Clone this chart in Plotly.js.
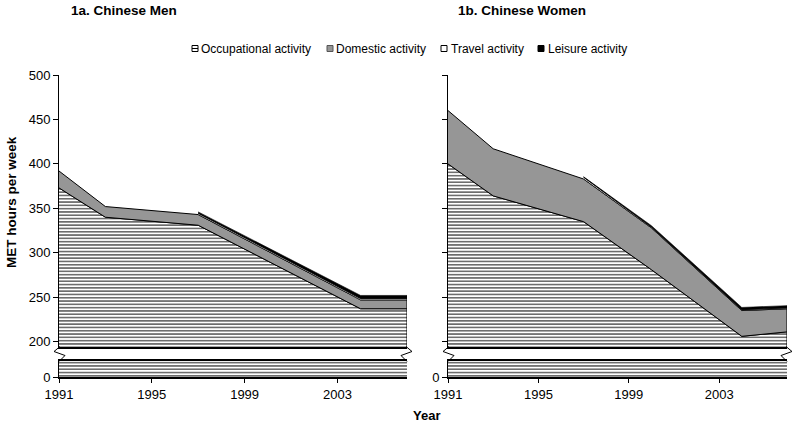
<!DOCTYPE html>
<html>
<head>
<meta charset="utf-8">
<script src="https://cdn.plot.ly/plotly-3.0.1.min.js"></script>
<style>html,body{margin:0;padding:0;background:#fff;}#chart{width:800px;height:425px;}</style>
</head>
<body>
<div id="chart"></div>
<script>
// ---------- data ----------
const years = [1991, 1993, 1997, 2000, 2004, 2006];
const travelYears = [1997, 2000, 2004, 2006];
const xTickVals = [1991, 1995, 1999, 2003];
const yTickValsUpper = [200, 250, 300, 350, 400, 450, 500];

const menOccupational = [373, 340, 331, 291, 237, 237];
const menDomestic     = [19, 12, 12, 11, 10, 10];
const menTravel       = [1.5, 1.5, 1.5, 1.5];
const menLeisure      = [1.5, 2, 3.5, 3.5];

const womenOccupational = [400, 364, 335, 281, 206, 211];
const womenDomestic     = [60, 53, 48, 47, 29, 26];
const womenTravel       = [2, 1, 1, 1];
const womenLeisure      = [0.5, 1.5, 2.5, 2.5];

const panelTitles = ['1a. Chinese Men', '1b. Chinese Women'];
const legendLabels = ['Occupational activity', 'Domestic activity', 'Travel activity', 'Leisure activity'];
const yAxisTitle = 'MET hours per week';
const xAxisTitle = 'Year';

// ---------- helpers ----------
const W = 800, H = 425;
const FONT = 'Liberation Sans, Arial, Helvetica, sans-serif';
const px = v => v / W;
const py = v => 1 - v / H;
const GRAY = '#969696';

function poly(xs, top, bottom) {
  return {
    x: xs.concat(xs.slice().reverse()),
    y: top.concat(bottom.slice().reverse())
  };
}
const add = (a, b) => a.map((v, i) => v + b[i]);

const hatch = {shape: '-', fgcolor: '#222', bgcolor: '#fff', size: 3.3, solidity: 0.33};

function panelTraces(occ, dom, trav, leis, xl, yl, xu, yu) {
  const zeros = years.map(() => 0);
  const domTop = add(occ, dom);
  const idx = travelYears.map(y => years.indexOf(y));
  const tBase = idx.map(i => domTop[i]);
  const tTop = add(tBase, trav);
  const lTop = add(tTop, leis);
  const out = [];
  // upper segment
  let p = poly(years, occ, zeros);
  out.push({type: 'scatter', mode: 'lines', x: p.x, y: p.y, xaxis: xu, yaxis: yu, fill: 'toself',
    fillcolor: '#fff', fillpattern: hatch, line: {color: '#000', width: 1}, hoverinfo: 'skip', showlegend: false});
  p = poly(years, domTop, occ);
  out.push({type: 'scatter', mode: 'lines', x: p.x, y: p.y, xaxis: xu, yaxis: yu, fill: 'toself',
    fillcolor: GRAY, line: {color: '#000', width: 1}, hoverinfo: 'skip', showlegend: false});
  p = poly(travelYears, tTop, tBase);
  out.push({type: 'scatter', mode: 'lines', x: p.x, y: p.y, xaxis: xu, yaxis: yu, fill: 'toself',
    fillcolor: '#fff', line: {color: '#000', width: 0.8}, hoverinfo: 'skip', showlegend: false});
  p = poly(travelYears, lTop, tTop);
  out.push({type: 'scatter', mode: 'lines', x: p.x, y: p.y, xaxis: xu, yaxis: yu, fill: 'toself',
    fillcolor: '#000', line: {color: '#000', width: 0.6}, hoverinfo: 'skip', showlegend: false});
  // lower segment (broken axis)
  p = poly(years, occ, zeros);
  out.push({type: 'scatter', mode: 'lines', x: p.x, y: p.y, xaxis: xl, yaxis: yl, fill: 'toself',
    fillcolor: '#fff', fillpattern: hatch, line: {color: '#000', width: 0}, hoverinfo: 'skip', showlegend: false});
  return out;
}

const data = []
  .concat(panelTraces(menOccupational, menDomestic, menTravel, menLeisure, 'x', 'y', 'x2', 'y2'))
  .concat(panelTraces(womenOccupational, womenDomestic, womenTravel, womenLeisure, 'x3', 'y3', 'x4', 'y4'));

// ---------- layout ----------
const leftDom = [px(59), px(407)];
const rightDom = [px(448), px(787)];
const upperDom = [py(347), py(75)];
const lowerDom = [py(377), py(361)];
const tickFont = {family: FONT, size: 13, color: '#000'};

function xLower(domain, anchor) {
  return {domain, anchor, range: [1991, 2006], tickvals: xTickVals, ticktext: xTickVals.map(String),
    ticks: 'outside', ticklen: 4, tickcolor: '#000', tickwidth: 1, showline: true, linecolor: '#000',
    linewidth: 2, mirror: true, showgrid: false, zeroline: false, tickfont: tickFont, fixedrange: true};
}
function xUpper(domain, anchor) {
  return {domain, anchor, range: [1991, 2006], showticklabels: false, ticks: '', showline: true,
    linecolor: '#000', linewidth: 2, showgrid: false, zeroline: false, fixedrange: true};
}
function yLower(domain, anchor) {
  return {domain, anchor, range: [0, 18], tickvals: [0], ticktext: ['0'], ticks: 'outside', ticklen: 5,
    tickcolor: '#000', showline: true, linecolor: '#000', linewidth: 1, showgrid: false, zeroline: false,
    tickfont: tickFont, fixedrange: true};
}
function yUpper(domain, anchor, labels) {
  return {domain, anchor, range: [194, 500], tickvals: yTickValsUpper, ticktext: yTickValsUpper.map(String),
    showticklabels: labels, ticks: 'outside', ticklen: 5, tickcolor: '#000', showline: true, linecolor: '#000',
    linewidth: 1, showgrid: false, zeroline: false, tickfont: tickFont, fixedrange: true};
}

// axis-break zigzags (decoration)
function zig(x, dir) {
  const pts = [[x + dir * 1, 346.5], [x - dir * 5, 351.5], [x + dir * 6, 355.5], [x, 361.5]];
  return {type: 'path', xref: 'paper', yref: 'paper',
    path: 'M' + pts.map(q => px(q[0]) + ',' + py(q[1])).join(' L'),
    line: {color: '#000', width: 1}};
}
const shapes = [zig(59, 1), zig(407, -1), zig(448, 1), zig(787, -1)];

// legend icons (decoration)
const iconX = [192, 327, 441, 538];
const iconFill = ['#fff', GRAY, '#fff', '#000'];
iconX.forEach((x, i) => {
  shapes.push({type: 'rect', xref: 'paper', yref: 'paper', x0: px(x), x1: px(x + 6), y0: py(51.5), y1: py(45.5),
    fillcolor: iconFill[i], line: {color: i === 1 ? '#555' : '#000', width: 1}});
});
shapes.push({type: 'line', xref: 'paper', yref: 'paper', x0: px(192), x1: px(198), y0: py(48.5), y1: py(48.5),
  line: {color: '#000', width: 1}});

const textX = [199, 334, 449, 546];
const annotations = legendLabels.map((t, i) => ({
  text: t, x: px(textX[i]), y: py(48.5), xref: 'paper', yref: 'paper', xanchor: 'left', yanchor: 'middle',
  showarrow: false, font: {family: FONT, size: 12, color: '#000'}
}));
annotations.push(
  {text: '<b>' + panelTitles[0] + '</b>', x: px(69), y: py(11), xref: 'paper', yref: 'paper', xanchor: 'left',
   yanchor: 'middle', showarrow: false, font: {family: FONT, size: 13.5, color: '#000'}},
  {text: '<b>' + panelTitles[1] + '</b>', x: px(456), y: py(11), xref: 'paper', yref: 'paper', xanchor: 'left',
   yanchor: 'middle', showarrow: false, font: {family: FONT, size: 13.5, color: '#000'}},
  {text: '<b>' + yAxisTitle + '</b>', x: px(11), y: py(202), xref: 'paper', yref: 'paper', xanchor: 'center',
   yanchor: 'middle', textangle: -90, showarrow: false, font: {family: FONT, size: 13.5, color: '#000'}},
  {text: '<b>' + xAxisTitle + '</b>', x: px(426), y: py(415), xref: 'paper', yref: 'paper', xanchor: 'center',
   yanchor: 'middle', showarrow: false, font: {family: FONT, size: 13, color: '#000'}}
);

const layout = {
  width: W, height: H,
  margin: {l: 0, r: 0, t: 0, b: 0, pad: 0},
  paper_bgcolor: '#fff', plot_bgcolor: 'rgba(0,0,0,0)',
  showlegend: false, hovermode: false,
  font: {family: FONT, size: 13, color: '#000'},
  xaxis: xLower(leftDom, 'y'),
  yaxis: yLower(lowerDom, 'x'),
  xaxis2: xUpper(leftDom, 'y2'),
  yaxis2: yUpper(upperDom, 'x2', true),
  xaxis3: xLower(rightDom, 'y3'),
  yaxis3: yLower(lowerDom, 'x3'),
  xaxis4: xUpper(rightDom, 'y4'),
  yaxis4: yUpper(upperDom, 'x4', false),
  shapes, annotations
};

Plotly.newPlot('chart', data, layout, {staticPlot: true, displayModeBar: false});
</script>
</body>
</html>
